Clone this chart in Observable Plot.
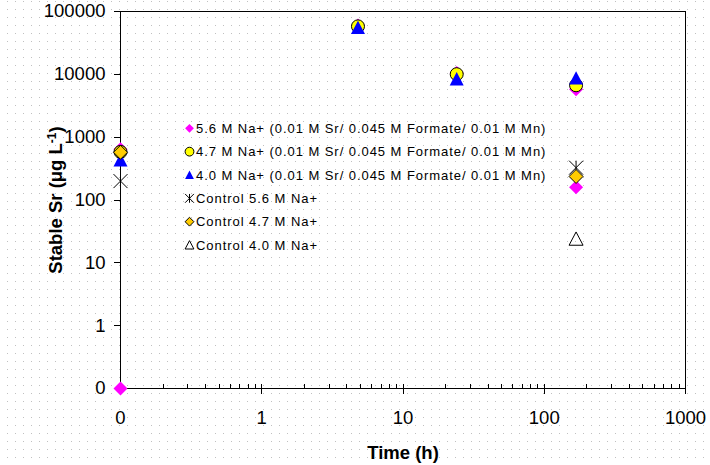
<!DOCTYPE html>
<html>
<head>
<meta charset="utf-8">
<script src="https://cdn.jsdelivr.net/npm/d3@7"></script>
<script src="https://cdn.jsdelivr.net/npm/@observablehq/plot@0.6"></script>
<style>
  html, body { margin: 0; padding: 0; background: #fff; }
  #chart svg { display: block; }
</style>
</head>
<body>
<div id="chart"></div>
<script>
// Stable Sr remaining in solution over time, log–log.
// The first sampling (t = 0) and a zero reading sit on the axis floor of 0.1, labelled "0".

const seriesNames = [
  "5.6 M Na+ (0.01 M Sr/ 0.045 M Formate/ 0.01 M Mn)",
  "4.7 M Na+ (0.01 M Sr/ 0.045 M Formate/ 0.01 M Mn)",
  "4.0 M Na+ (0.01 M Sr/ 0.045 M Formate/ 0.01 M Mn)",
  "Control 5.6 M Na+",
  "Control 4.7 M Na+",
  "Control 4.0 M Na+"
];

// time (h) and stable Sr (µg/L) per series
const na56Time = [0.1, 0.1, 4.8, 24, 168, 168];
const na56Sr   = [640, 0.1, 60000, 10500, 5800, 160];
const na47Time = [0.1, 4.8, 24, 168];
const na47Sr   = [583, 58000, 10050, 6700];
const na40Time = [0.1, 4.8, 24, 168];
const na40Sr   = [430, 55000, 8400, 8700];
const ctl56Time = [0.1, 168];
const ctl56Sr   = [200, 327];
const ctl47Time = [0.1, 168];
const ctl47Sr   = [575, 237];
const ctl40Time = [168];
const ctl40Sr   = [24];

const xTicks = [0.1, 1, 10, 100, 1000];
const xTickLabels = ["0", "1", "10", "100", "1000"];
const yTicks = [0.1, 1, 10, 100, 1000, 10000, 100000];
const yTickLabels = ["0", "1", "10", "100", "1000", "10000", "100000"];

// minor log ticks on the time axis (2..9 within each decade)
const xMinor = [];
for (const base of [0.1, 1, 10, 100]) for (let k = 2; k <= 9; k++) xMinor.push(base * k);

// marker shapes (r = half-size)
const half = (size) => Math.sqrt(size / Math.PI);
const squareDiamond = { draw(ctx, size) { const r = half(size);
  ctx.moveTo(0, -r); ctx.lineTo(r, 0); ctx.lineTo(0, r); ctx.lineTo(-r, 0); ctx.closePath(); } };
const triangleUp = { draw(ctx, size) { const r = half(size);
  ctx.moveTo(0, -r); ctx.lineTo(r, r * 0.9); ctx.lineTo(-r, r * 0.9); ctx.closePath(); } };
const asterisk = { draw(ctx, size) { const r = half(size);
  ctx.moveTo(-r, -r); ctx.lineTo(r, r); ctx.moveTo(r, -r); ctx.lineTo(-r, r);
  ctx.moveTo(0, -r); ctx.lineTo(0, r); } };

const styles = [
  { symbol: squareDiamond, fill: "#ff00ff", stroke: "none", r: 7 },
  { symbol: d3.symbolCircle, fill: "#ffff00", stroke: "#000", r: 6.5 },
  { symbol: triangleUp, fill: "#0000ff", stroke: "none", r: 7 },
  { symbol: asterisk, fill: "none", stroke: "#000", r: 7 },
  { symbol: squareDiamond, fill: "#ffcc00", stroke: "#000", r: 7 },
  { symbol: triangleUp, fill: "none", stroke: "#000", r: 7 }
];

const seriesData = [
  [na56Time, na56Sr], [na47Time, na47Sr], [na40Time, na40Sr],
  [ctl56Time, ctl56Sr], [ctl47Time, ctl47Sr], [ctl40Time, ctl40Sr]
].map(([t, v]) => t.map((time, i) => ({ time, sr: v[i] })));

const font = "'Liberation Sans', Arial, sans-serif";
const yTitle = "Stable Sr (\u03bcg L-1)";

const chart = Plot.plot({
  width: 710,
  height: 465,
  marginLeft: 120,
  marginRight: 25,
  marginTop: 11,
  marginBottom: 77,
  style: { fontFamily: font, background: "white", color: "black" },
  x: { type: "log", domain: [0.1, 1000], axis: null },
  y: { type: "log", domain: [0.1, 100000], axis: null },
  marks: [
    Plot.frame({ stroke: "black", shapeRendering: "crispEdges" }),
    Plot.ruleY(yTicks, { y: d => d, x1: () => 0.1, x2: () => 0.1, insetLeft: -6, stroke: "black", shapeRendering: "crispEdges" }),
    Plot.ruleX(xMinor, { x: d => d, y1: () => 0.1, y2: () => 0.1, insetTop: -4, stroke: "black", shapeRendering: "crispEdges" }),
    Plot.ruleX(xTicks, { x: d => d, y1: () => 0.1, y2: () => 0.1, insetTop: -4, insetBottom: -6, stroke: "black", shapeRendering: "crispEdges" }),
    Plot.text(yTicks, { x: () => 0.1, y: d => d, text: (d, i) => yTickLabels[i], textAnchor: "end", dx: -15, fontSize: 18.5 }),
    Plot.text(xTicks, { x: d => d, y: () => 0.1, text: (d, i) => xTickLabels[i], dy: 30, fontSize: 18.5 }),
    Plot.text(["Time (h)"], { frameAnchor: "bottom", lineAnchor: "bottom", textAnchor: "middle", text: d => d, dy: 70, fontSize: 18.5, fontWeight: "bold" }),
    Plot.text([yTitle], { frameAnchor: "left", lineAnchor: "bottom", textAnchor: "middle", rotate: -90, text: d => d, dx: -59, fontSize: 18.5, fontWeight: "bold" }),
    ...seriesData.map((rows, k) => Plot.dot(rows, {
      x: "time", y: "sr",
      symbol: styles[k].symbol, r: styles[k].r,
      fill: styles[k].fill, stroke: styles[k].stroke, strokeWidth: 1
    }))
  ]
});

const svg = d3.select(chart);

// dotted backdrop behind everything
svg.insert("rect", ":first-child")
  .attr("width", 710).attr("height", 465).attr("fill", "url(#dotfill)");
svg.insert("rect", ":first-child")
  .attr("width", 710).attr("height", 465).attr("fill", "#fff");
const pat = svg.insert("defs", ":first-child").append("pattern")
  .attr("id", "dotfill").attr("width", 8).attr("height", 8)
  .attr("patternUnits", "userSpaceOnUse");
pat.append("rect").attr("x", 7).attr("y", 1).attr("width", 1).attr("height", 1).attr("fill", "#c0c0c0");

// superscript on the unit of the y title
svg.selectAll("text").filter(function () { return this.textContent === yTitle; })
  .each(function () {
    const t = d3.select(this).text(null);
    t.append("tspan").text("Stable Sr (\u03bcg L");
    t.append("tspan").attr("dy", "-0.45em").attr("font-size", "12px").text("-1");
    t.append("tspan").attr("dy", "0.3em").text(")");
  });

// legend placed inside the plot area
const legend = svg.append("g")
  .attr("font-family", font).attr("font-size", 13)
  .attr("letter-spacing", "0.95px").attr("text-anchor", "start");
seriesNames.forEach((name, i) => {
  const cy = 128.3 + i * 23.35;
  const s = styles[i];
  legend.append("path")
    .attr("transform", `translate(189.5,${cy})`)
    .attr("d", d3.symbol(s.symbol, Math.PI * 4.4 * 4.4)())
    .attr("fill", s.fill).attr("stroke", s.stroke);
  legend.append("text").attr("x", 196).attr("y", cy + 4.7).text(name);
});

document.getElementById("chart").append(chart);
</script>
</body>
</html>
